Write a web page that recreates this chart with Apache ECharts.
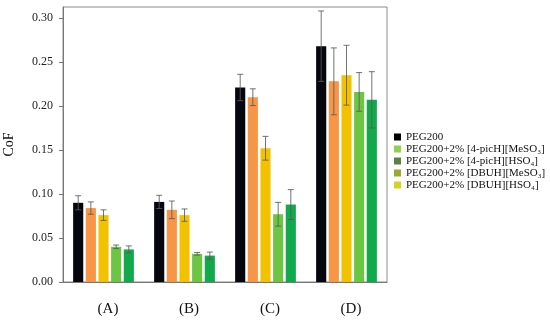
<!DOCTYPE html>
<html><head><meta charset="utf-8">
<script src="https://cdn.jsdelivr.net/npm/echarts@6/dist/echarts.min.js"></script>
<style>html,body{margin:0;padding:0;background:#fff}#c{width:550px;height:321px}</style>
</head><body><div id="c"></div>
<script>
const categories = ['(A)', '(B)', '(C)', '(D)'];
const seriesNames = ['PEG200', 'PEG200+2% [4-picH][MeSO\u2083]', 'PEG200+2% [4-picH][HSO\u2084]', 'PEG200+2% [DBUH][MeSO\u2083]', 'PEG200+2% [DBUH][HSO\u2084]'];
const peg200 = [0.090, 0.091, 0.221, 0.268];
const s2 = [0.084, 0.082, 0.210, 0.228];
const s3 = [0.076, 0.076, 0.152, 0.235];
const s4 = [0.040, 0.032, 0.077, 0.216];
const s5 = [0.037, 0.030, 0.088, 0.207];
const err1 = [0.008, 0.0075, 0.015, 0.040];
const err2 = [0.007, 0.010, 0.0095, 0.038];
const err3 = [0.006, 0.007, 0.0135, 0.034];
const err4 = [0.002, 0.0015, 0.0135, 0.022];
const err5 = [0.004, 0.004, 0.017, 0.032];
const yTicks = [0, 0.05, 0.10, 0.15, 0.20, 0.25, 0.30];

const values = [peg200, s2, s3, s4, s5];
const errs = [err1, err2, err3, err4, err5];
const barColors = ['#06060f', '#F79646', '#F2C200', '#6CC644', '#12A84C'];
const legendColors = ['#000000', '#92D050', '#5E7E46', '#9BA832', '#D4D420'];
const font = "'Liberation Serif', 'Times New Roman', serif";
const N = 5, CAT_GAP = 0.25, BAR_GAP = 0.25;

const series = [];
values.forEach((vals, si) => {
  series.push({
    name: seriesNames[si], type: 'bar',
    barGap: (BAR_GAP * 100) + '%', barCategoryGap: (CAT_GAP * 100) + '%',
    itemStyle: { color: legendColors[si] },
    data: vals.map(v => ({ value: v, itemStyle: { color: barColors[si] } }))
  });
});
values.forEach((vals, si) => {
  series.push({
    name: 'err' + si, type: 'custom', z: 5,
    data: vals.map((v, i) => [i, v, errs[si][i]]),
    encode: { x: 0, y: 1 },
    renderItem: function (params, api) {
      const cat = api.value(0), v = api.value(1), e = api.value(2);
      const c = api.coord([cat, v]);
      const catW = api.size([1, 0])[0];
      const bandW = catW * (1 - CAT_GAP);
      const barW = bandW / (N + (N - 1) * BAR_GAP);
      const x = c[0] - bandW / 2 + si * barW * (1 + BAR_GAP) + barW / 2;
      const yt = api.coord([cat, v + e])[1];
      const yb = api.coord([cat, v - e])[1];
      const st = { stroke: 'rgba(90,90,90,0.85)', lineWidth: 1 };
      const cw = 3;
      return { type: 'group', children: [
        { type: 'line', shape: { x1: x, y1: yt, x2: x, y2: yb }, style: st },
        { type: 'line', shape: { x1: x - cw, y1: yt, x2: x + cw, y2: yt }, style: st },
        { type: 'line', shape: { x1: x - cw, y1: yb, x2: x + cw, y2: yb }, style: st }
      ]};
    }
  });
});

const chart = echarts.init(document.getElementById('c'), null, { renderer: 'canvas' });
chart.setOption({
  animation: false,
  backgroundColor: '#fff',
  grid: { left: 63, right: 163, top: 7, bottom: 39, show: true, borderColor: '#8a8a8a', borderWidth: 1,
    containLabel: false, outerBoundsMode: 'none' },
  legend: {
    orient: 'vertical', left: 389, top: 126,
    data: seriesNames, icon: 'rect', itemWidth: 7, itemHeight: 7, itemGap: 0,
    textStyle: { fontFamily: font, fontSize: 11, lineHeight: 12, color: '#111' }
  },
  xAxis: {
    type: 'category', data: categories,
    axisLine: { lineStyle: { color: '#777', width: 1 } },
    axisTick: { show: false },
    axisLabel: { fontFamily: font, fontSize: 15, color: '#111', margin: 20, padding: [0, 0, 0, 9] }
  },
  yAxis: {
    type: 'value', min: 0, max: 0.3125, interval: 0.05,
    name: 'CoF', nameLocation: 'middle', nameGap: 47, nameRotate: 90,
    nameTextStyle: { fontFamily: font, fontSize: 14, color: '#111' },
    axisLine: { show: true, lineStyle: { color: '#777', width: 1 } },
    axisTick: { show: true, length: 4, lineStyle: { color: '#777' } },
    splitLine: { show: false },
    axisLabel: { fontFamily: font, fontSize: 12, color: '#222', margin: 10, showMaxLabel: false,
      formatter: v => yTicks.some(t => Math.abs(t - v) < 1e-9) ? v.toFixed(2) : '' }
  },
  series: series
});
</script></body></html>
